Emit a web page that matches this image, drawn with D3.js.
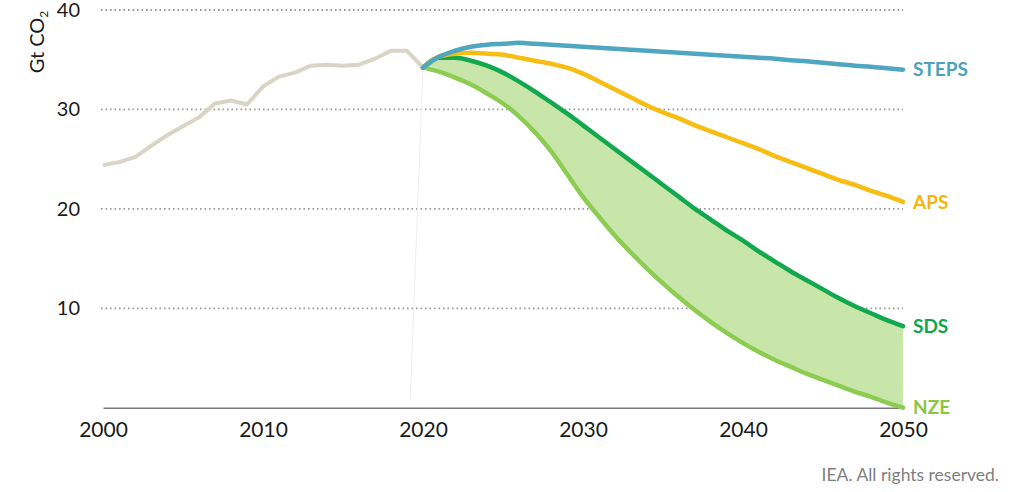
<!DOCTYPE html>
<html>
<head>
<meta charset="utf-8">
<script src="https://cdn.jsdelivr.net/npm/d3@7"></script>
<style>
  body { margin: 0; background: #ffffff; }
  text { font-family: Lato, "Open Sans", sans-serif; }
</style>
</head>
<body>
<div id="vis"></div>
<script>
var w = 1024;
var h = 492;

// historical emissions, Gt CO2
var histYears = [2000, 2001, 2002, 2003, 2004, 2005, 2006, 2007, 2008, 2009, 2010,
  2011, 2012, 2013, 2014, 2015, 2016, 2017, 2018, 2019, 2020];
var histValues = [24.4, 24.7, 25.2, 26.3, 27.4, 28.3, 29.2, 30.6, 30.9, 30.5, 32.3,
  33.3, 33.7, 34.4, 34.5, 34.4, 34.5, 35.1, 35.9, 35.9, 34.2];

// scenario years 2020-2050
var scenYears = d3.range(2020, 2051);
var steps = [34.2, 35.3, 35.9, 36.3, 36.5, 36.6, 36.7, 36.6, 36.5, 36.4, 36.3,
  36.2, 36.1, 36.0, 35.9, 35.8, 35.7, 35.6, 35.5, 35.4, 35.3,
  35.2, 35.1, 34.95, 34.85, 34.7, 34.55, 34.4, 34.3, 34.15, 34.0];
var aps = [34.2, 35.3, 35.6, 35.7, 35.6, 35.5, 35.2, 34.9, 34.6, 34.2, 33.6,
  32.8, 32.0, 31.2, 30.4, 29.7, 29.1, 28.4, 27.8, 27.2, 26.6,
  26.0, 25.3, 24.7, 24.1, 23.5, 22.9, 22.4, 21.8, 21.3, 20.7];
var sds = [34.2, 35.2, 35.2, 34.9, 34.4, 33.7, 32.8, 31.8, 30.7, 29.6, 28.4,
  27.2, 26.0, 24.8, 23.6, 22.4, 21.2, 20.0, 18.9, 17.8, 16.8,
  15.7, 14.7, 13.7, 12.8, 11.9, 11.0, 10.2, 9.5, 8.8, 8.2];
var nze = [34.2, 33.8, 33.2, 32.5, 31.6, 30.6, 29.3, 27.7, 25.8, 23.5, 21.2,
  19.2, 17.3, 15.6, 14.0, 12.5, 11.1, 9.8, 8.6, 7.5, 6.5,
  5.6, 4.8, 4.1, 3.4, 2.8, 2.2, 1.6, 1.1, 0.5, 0.0];

var xTicks = [2000, 2010, 2020, 2030, 2040, 2050];
var yTicks = [10, 20, 30, 40];

var svg = d3.select('#vis')
  .append('svg')
    .attr('width', w)
    .attr('height', h);

var x = d3.scaleLinear()
  .domain([2000, 2050])
  .range([103, 903]);

var y = d3.scaleLinear()
  .domain([0, 40])
  .range([407.7, 10]);

// dotted gridlines
svg.selectAll('line.grid')
  .data(yTicks)
  .enter()
  .append('line')
    .attr('class', 'grid')
    .attr('x1', 101)
    .attr('x2', 903)
    .attr('y1', function(d) { return y(d); })
    .attr('y2', function(d) { return y(d); })
    .style('stroke', '#9a9a9a')
    .style('stroke-width', 1.8)
    .style('stroke-dasharray', '1.6,2.9');

// y axis labels
var yAxis = d3.axisLeft(y)
  .tickValues(yTicks)
  .tickSize(0)
  .tickPadding(0);

svg.append('g')
    .attr('transform', 'translate(80,0)')
    .call(yAxis)
    .call(function(g) { g.select('.domain').remove(); })
  .selectAll('text')
    .style('font-family', 'Lato, sans-serif')
    .style('font-size', '20px')
    .style('fill', '#1a1a1a');

// x axis
var xAxis = d3.axisBottom(x)
  .tickValues(xTicks)
  .tickFormat(d3.format('d'))
  .tickSize(0)
  .tickPadding(14);

var gx = svg.append('g')
    .attr('transform', 'translate(0,' + y(0) + ')')
    .call(xAxis);

gx.select('.domain')
    .style('stroke', '#7a7a7a')
    .style('stroke-width', 1.5);

gx.selectAll('text')
    .style('font-family', 'Lato, sans-serif')
    .style('font-size', '21px')
    .style('fill', '#1a1a1a');

// faint line at 2020
svg.append('line')
    .attr('x1', x(2019.2))
    .attr('x2', x(2020))
    .attr('y1', y(0.8))
    .attr('y2', y(34.2))
    .style('stroke', '#eeeeee')
    .style('stroke-width', 1);

// band between SDS and NZE
var band = scenYears.map(function(yr, i) {
  return { year: yr, hi: sds[i], lo: nze[i] };
});

var area = d3.area()
  .x(function(d) { return x(d.year); })
  .y0(function(d) { return y(d.lo); })
  .y1(function(d) { return y(d.hi); })
  .curve(d3.curveMonotoneX);

svg.append('path')
    .datum(band)
    .attr('d', area)
    .style('fill', '#c8e6aa')
    .style('stroke', 'none');

// historical line
var histLine = d3.line()
  .x(function(d, i) { return x(histYears[i]); })
  .y(function(d) { return y(d); });

svg.append('path')
    .datum(histValues)
    .attr('d', histLine)
    .style('fill', 'none')
    .style('stroke', '#d9d5c6')
    .style('stroke-width', 4)
    .style('stroke-linejoin', 'round');

// scenario lines
var scenLine = d3.line()
  .x(function(d, i) { return x(scenYears[i]); })
  .y(function(d) { return y(d); })
  .curve(d3.curveMonotoneX);

var scenarios = [
  { name: 'NZE', values: nze, color: '#8ccc50', labelColor: '#8cc63f' },
  { name: 'SDS', values: sds, color: '#11a84e', labelColor: '#12a550' },
  { name: 'APS', values: aps, color: '#f8bd12', labelColor: '#f5b50f' },
  { name: 'STEPS', values: steps, color: '#4ea6c0', labelColor: '#4aa2bd' }
];

svg.selectAll('path.scen')
  .data(scenarios)
  .enter()
  .append('path')
    .attr('class', 'scen')
    .attr('d', function(d) { return scenLine(d.values); })
    .style('fill', 'none')
    .style('stroke', function(d) { return d.color; })
    .style('stroke-width', 4.5)
    .style('stroke-linecap', 'round')
    .style('stroke-linejoin', 'round');

// end labels
svg.selectAll('text.label')
  .data(scenarios)
  .enter()
  .append('text')
    .attr('class', 'label')
    .attr('x', 913)
    .attr('y', function(d) { return y(d.values[d.values.length - 1]); })
    .attr('dy', '0.35em')
    .text(function(d) { return d.name; })
    .style('font-size', '19px')
    .style('font-weight', 'bold')
    .style('fill', function(d) { return d.labelColor; });

// y axis title
var title = svg.append('text')
    .attr('transform', 'translate(44,42) rotate(-90)')
    .attr('text-anchor', 'middle')
    .style('font-size', '20px')
    .style('fill', '#1a1a1a');

title.append('tspan').text('Gt CO');
title.append('tspan')
    .attr('dy', '0.3em')
    .style('font-size', '12px')
    .text('2');

// source note
svg.append('text')
    .attr('x', 999)
    .attr('y', 481)
    .attr('text-anchor', 'end')
    .style('font-size', '17.5px')
    .style('fill', '#7f7f7f')
    .text('IEA. All rights reserved.');
</script>
</body>
</html>
